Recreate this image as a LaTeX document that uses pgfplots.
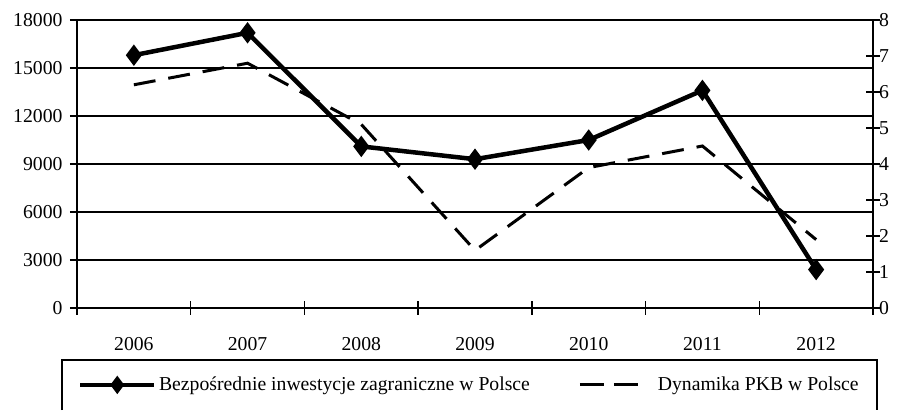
\documentclass[border=0pt]{standalone}
\usepackage{fontspec}
\setmainfont{Liberation Serif}
\usepackage{pgfplots}
\pgfplotsset{compat=1.18}
\pgfplotsset{
  legA/.style={legend image code/.code={\draw[mark repeat=2,mark phase=2,##1,mark size=5.5pt] plot coordinates {(0pt,0pt) (37pt,0pt) (74pt,0pt)};}},
  legB/.style={legend image code/.code={\draw[##1] (0pt,0pt) -- (61pt,0pt); \path (74pt,0pt);}},
}
\begin{document}
\begin{tikzpicture}[x=1pt,y=1pt]
\useasboundingbox (0,0) rectangle (900,410);
\pgfplotsset{
  every axis/.append style={
    at={(77pt,102pt)}, anchor=south west,
    scale only axis, width=796pt, height=288pt,
    xmin=-0.5, xmax=6.5,
    font=\fontsize{19.7}{23}\selectfont,
    /pgf/number format/assume math mode=true,
    axis line style={line width=1.8pt, black},
    clip=false,
  }
}
\begin{axis}[
  ymin=0, ymax=18000,
  axis x line*=bottom, axis y line*=left,
  xtick={0,1,2,3,4,5,6}, xticklabels={2006,2007,2008,2009,2010,2011,2012},
  x tick style={draw=none},
  ytick={0,3000,6000,9000,12000,15000,18000},
  scaled y ticks=false,
  yticklabel style={/pgf/number format/1000 sep={}, xshift=-4pt},
  tick align=outside, major tick length=7pt,
  y tick style={line width=1.5pt, black},
  xticklabel style={yshift=-19pt},
  ymajorgrids, grid style={black, line width=1.3pt},
  legend columns=2,
  legend style={at={(axis description cs:0.0013,-0.267)}, anchor=west,
    draw=none, fill=none, inner sep=0pt, outer sep=0pt,
    font=\fontsize{19.7}{23}\selectfont,
    nodes={inner sep=2.5pt},
    /tikz/every even column/.append style={column sep=46pt}},
]
\addplot[black, line width=4.5pt, mark=diamond*, mark size=7pt, mark options={solid}, legA]
  coordinates {(0,15800) (1,17200) (2,10100) (3,9300) (4,10500) (5,13600) (6,2400)};
\addlegendentry{Bezpośrednie inwestycje zagraniczne w Polsce}
\addlegendimage{black, line width=3pt, dash pattern=on 24pt off 10pt, legB}
\addlegendentry{Dynamika PKB w Polsce}
\end{axis}
\begin{axis}[
  ymin=0, ymax=8,
  axis x line*=bottom, axis y line*=right,
  xtick={-0.5,0.5,1.5,2.5,3.5,4.5,5.5,6.5}, xticklabels={},
  ytick={0,1,2,3,4,5,6,7,8},
  tick align=center, major tick length=13pt,
  tick style={line width=1.5pt, black},
  yticklabel style={xshift=-4pt},
]
\addplot[black, line width=3pt, dash pattern=on 22pt off 13pt]
  coordinates {(0,6.2) (1,6.8) (2,5.1) (3,1.6) (4,3.9) (5,4.5) (6,1.9)};
\end{axis}
\draw[line width=1.3pt] (62,0) -- (62,50) -- (877,50) -- (877,0);
\end{tikzpicture}
\end{document}
